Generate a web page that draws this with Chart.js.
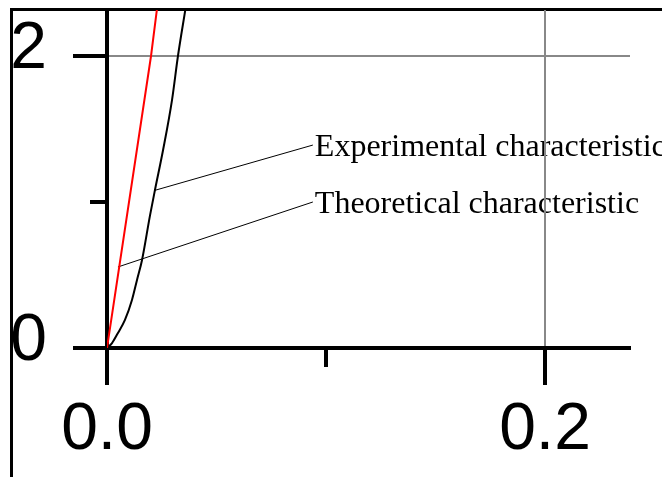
<!DOCTYPE html>
<html>
<head>
<meta charset="utf-8">
<script src="https://cdn.jsdelivr.net/npm/chart.js@4/dist/chart.umd.min.js"></script>
<style>
    html, body { margin: 0; padding: 0; background: #fff; overflow: hidden; }
    #wrap { position: relative; width: 662px; height: 477px; }
    #frame { position: absolute; left: 10px; top: 8px; width: 700px; height: 520px;
             border-top: 3px solid #000; border-left: 3px solid #000; }
    #chart { position: absolute; left: 0; top: 0; }
</style>
</head>
<body>
<div id="wrap">
    <div id="frame"></div>
    <canvas id="chart" width="662" height="477"></canvas>
</div>
<script>
// theoretical characteristic (red)
const theoX = [0, 0.0201, 0.0228];
const theoY = [0, 2.0, 2.32];

// experimental characteristic (black)
const expX = [0, 0.0023, 0.0050, 0.0082, 0.0114, 0.0137, 0.0160, 0.0196, 0.0219, 0.0256, 0.0297, 0.0324, 0.0358];
const expY = [0, 0.034, 0.103, 0.192, 0.329, 0.466, 0.603, 0.905, 1.082, 1.356, 1.70, 2.0, 2.32];

const xTickLabels = { 0: '0.0', 0.2: '0.2' };
const yTickLabels = { 0: '0', 2: '2' };

// callout texts and where their leader lines start / end (data units)
const noteLabels = ['Experimental characteristic', 'Theoretical characteristic'];
const noteFromX = [0.0219, 0.0050];
const noteFromY = [1.08, 0.555];
const noteToX = [0.094, 0.094];
const noteToY = [1.39, 1.0];

function toPoints(xs, ys) {
    return xs.map((x, i) => ({ x: x, y: ys[i] }));
}

// tick marks: long for labelled ticks, short for the others
const tickMarks = {
    id: 'tickMarks',
    afterDraw(chart) {
        const ctx = chart.ctx;
        const xs = chart.scales.x;
        const ys = chart.scales.y;
        ctx.save();
        ctx.strokeStyle = '#000';
        ctx.lineWidth = 4;
        ctx.lineCap = 'butt';
        xs.ticks.forEach(t => {
            const px = xs.getPixelForValue(t.value);
            const len = t.label ? 37 : 19;
            ctx.beginPath();
            ctx.moveTo(px, xs.top);
            ctx.lineTo(px, xs.top + len);
            ctx.stroke();
        });
        ys.ticks.forEach(t => {
            const py = ys.getPixelForValue(t.value);
            const len = t.label ? 34 : 17;
            ctx.beginPath();
            ctx.moveTo(ys.right, py);
            ctx.lineTo(ys.right - len, py);
            ctx.stroke();
        });
        ctx.restore();
    }
};

// leader lines and callout text
const callouts = {
    id: 'callouts',
    beforeDraw(chart) {
        const ctx = chart.ctx;
        const xs = chart.scales.x;
        const ys = chart.scales.y;
        ctx.save();
        ctx.strokeStyle = '#000';
        ctx.lineWidth = 1;
        ctx.fillStyle = '#000';
        ctx.font = '32px "Liberation Serif", "Times New Roman", serif';
        ctx.textAlign = 'left';
        ctx.textBaseline = 'alphabetic';
        noteLabels.forEach((txt, i) => {
            const x1 = xs.getPixelForValue(noteFromX[i]);
            const y1 = ys.getPixelForValue(noteFromY[i]);
            const x2 = xs.getPixelForValue(noteToX[i]);
            const y2 = ys.getPixelForValue(noteToY[i]);
            ctx.beginPath();
            ctx.moveTo(x1, y1);
            ctx.lineTo(x2, y2);
            ctx.stroke();
            ctx.fillText(txt, x2 + 2, y2 + 11);
        });
        ctx.restore();
    }
};

const tickFont = { family: '"Liberation Sans", Arial, sans-serif', size: 66, lineHeight: 1 };

const chart = new Chart(document.getElementById('chart').getContext('2d'), {
    type: 'scatter',
    data: {
        datasets: [{
            label: 'Theoretical characteristic',
            data: toPoints(theoX, theoY),
            showLine: true,
            borderColor: '#ff0000',
            borderWidth: 2,
            pointRadius: 0
        }, {
            label: 'Experimental characteristic',
            data: toPoints(expX, expY),
            showLine: true,
            borderColor: '#000000',
            borderWidth: 2,
            pointRadius: 0,
            cubicInterpolationMode: 'monotone'
        }]
    },
    options: {
        responsive: false,
        devicePixelRatio: 1,
        animation: false,
        layout: { padding: { top: 10, right: 32, left: 0, bottom: 0 } },
        plugins: {
            legend: { display: false },
            tooltip: { enabled: false }
        },
        scales: {
            x: {
                type: 'linear',
                min: 0,
                max: 0.2388,
                afterFit(scale) {
                    scale.height = 129;
                    scale.paddingLeft = 0;
                    scale.paddingRight = 0;
                },
                border: { display: true, color: '#000', width: 4 },
                grid: {
                    drawTicks: false,
                    lineWidth: 2,
                    color: c => (c.tick && Math.abs(c.tick.value - 0.2) < 1e-9) ? '#888888' : 'rgba(0,0,0,0)'
                },
                ticks: {
                    stepSize: 0.1,
                    includeBounds: false,
                    maxRotation: 0,
                    autoSkip: false,
                    padding: 50,
                    color: '#000',
                    font: tickFont,
                    callback: v => xTickLabels[Math.round(v * 10) / 10] || ''
                }
            },
            y: {
                type: 'linear',
                min: 0,
                max: 2.315,
                afterFit(scale) {
                    scale.width = 107;
                    scale.paddingTop = 0;
                    scale.paddingBottom = 0;
                },
                border: { display: true, color: '#000', width: 4 },
                grid: {
                    drawTicks: false,
                    lineWidth: 2,
                    color: c => (c.tick && c.tick.value === 2) ? '#888888' : 'rgba(0,0,0,0)'
                },
                ticks: {
                    stepSize: 1,
                    includeBounds: false,
                    autoSkip: false,
                    padding: 60,
                    labelOffset: -6,
                    color: '#000',
                    font: tickFont,
                    callback: v => yTickLabels[v] || ''
                }
            }
        }
    },
    plugins: [callouts, tickMarks]
});
</script>
</body>
</html>
